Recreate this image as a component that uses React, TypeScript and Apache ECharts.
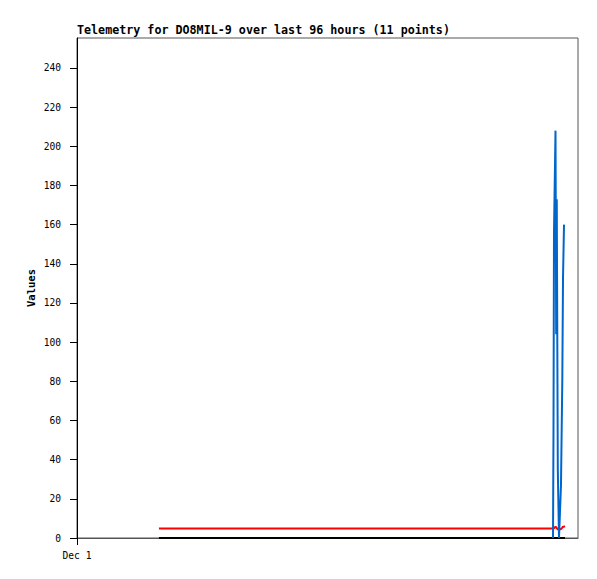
import React, { useEffect, useRef } from "react";
import * as echarts from "echarts";

// Hours since Dec 1 00:00
const hours = [15.7, 91.21, 91.3, 91.4, 91.69, 91.82, 91.93, 92.13, 92.36, 92.74, 92.99, 93.13, 93.32, 93.51];
const blueValues = [null, 0, 52, 156, 208, 104, 173, 35, 0, 27, 80, 133, 160, null];
const redValues = [4.8, 4.8, 4.8, 5.0, 5.8, 5.5, 5.0, 4.4, 4.3, 4.6, 5.3, 5.8, 5.8, 6.0];
const blackValues = [0, 0, 0, 0, 0, 0, 0, 0, 0, 0, 0, 0, 0, 0];
const yTicks = [0, 20, 40, 60, 80, 100, 120, 140, 160, 180, 200, 220, 240];
const xTicks = [0];
const xTickLabels = ["Dec 1"];
const titleText = "Telemetry for DO8MIL-9 over last 96 hours (11 points)";
const yName = "Values";

const FONT = "'DejaVu Sans Mono', 'Liberation Mono', monospace";

function pairs(vals: (number | null)[]) {
  return hours.map((h, i) => [h, vals[i] === null ? null : vals[i]]);
}

export default function App() {
  const ref = useRef<HTMLDivElement>(null);
  useEffect(() => {
    if (!ref.current) return;
    const chart = echarts.init(ref.current, null, { renderer: "svg" });
    chart.setOption({
      animation: false,
      backgroundColor: "#ffffff",
      title: {
        text: titleText,
        left: 77,
        top: 24,
        padding: 0,
        textStyle: { fontFamily: FONT, fontSize: 11.7, fontWeight: "bold", color: "#000" },
      },
      grid: {
        left: 77,
        top: 38,
        right: 19,
        bottom: 41,
        show: true,
        borderColor: "#555",
        borderWidth: 1,
        backgroundColor: "transparent",
      },
      xAxis: {
        type: "value",
        min: 0,
        max: 96,
        axisLine: { show: true, lineStyle: { color: "#555", width: 1 } },
        axisTick: { show: true, customValues: xTicks, length: 7, inside: false, lineStyle: { color: "#000" } },
        axisLabel: {
          customValues: xTicks,
          formatter: (v: number) => xTickLabels[xTicks.indexOf(v)] ?? "",
          margin: 12,
          fontFamily: FONT,
          fontSize: 9.6,
          color: "#000",
        },
        splitLine: { show: false },
      },
      yAxis: {
        type: "value",
        min: 0,
        max: 255.3,
        name: yName,
        nameLocation: "middle",
        nameGap: 41,
        nameMoveOverlap: false,
        nameRotate: 90,
        nameTextStyle: { fontFamily: FONT, fontSize: 10.5, fontWeight: "bold", color: "#000" },
        axisLine: { show: true, onZero: false, lineStyle: { color: "#000", width: 1 } },
        axisTick: { show: true, customValues: yTicks, length: 7, inside: false, lineStyle: { color: "#000" } },
        axisLabel: {
          customValues: yTicks,
          margin: 16,
          fontFamily: FONT,
          fontSize: 9.6,
          color: "#000",
        },
        splitLine: { show: false },
      },
      series: [
        {
          type: "line",
          data: pairs(redValues),
          showSymbol: false,
          lineStyle: { color: "#ff0000", width: 2 },
          itemStyle: { color: "#ff0000" },
          clip: false,
        },
        {
          type: "line",
          data: pairs(blackValues),
          showSymbol: false,
          lineStyle: { color: "#000000", width: 2 },
          itemStyle: { color: "#000000" },
          clip: false,
        },
        {
          type: "line",
          data: pairs(blueValues),
          showSymbol: false,
          connectNulls: false,
          lineStyle: { color: "#0066cc", width: 2 },
          itemStyle: { color: "#0066cc" },
          clip: false,
        },
      ],
    });
    return () => chart.dispose();
  }, []);
  return (
    <div
      ref={ref}
      style={{ position: "fixed", left: 0, top: 0, width: 597, height: 579, background: "#fff" }}
    />
  );
}
